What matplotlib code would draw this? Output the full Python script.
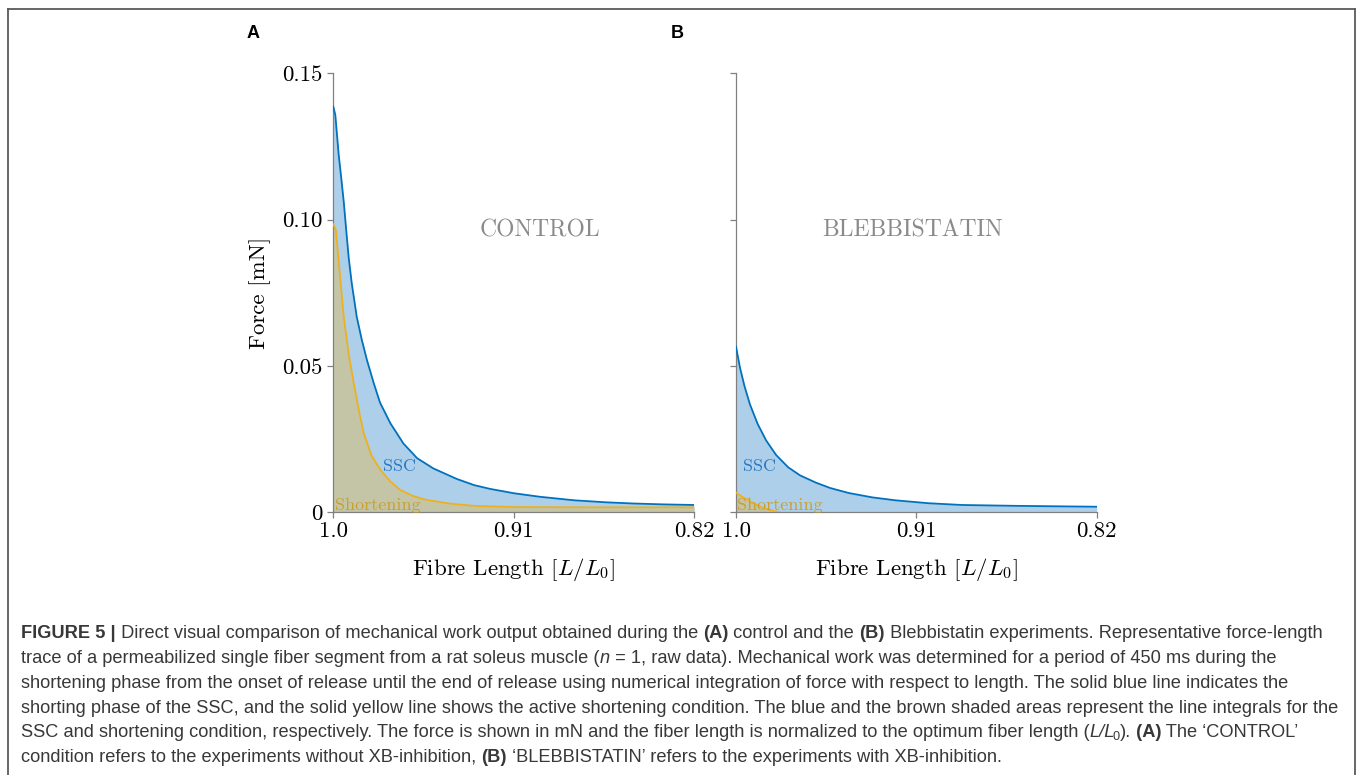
import matplotlib
matplotlib.use("Agg")
import matplotlib.pyplot as plt
from matplotlib.lines import Line2D

# ---------------- data ----------------
ctrl_ssc_L = [1.0, 0.999, 0.9973, 0.9960, 0.9948, 0.9935, 0.9923, 0.9908, 0.9883,
              0.9858, 0.9832, 0.9798, 0.9767, 0.9715, 0.9650, 0.9582, 0.9501,
              0.9384, 0.9298, 0.9218, 0.9098, 0.8969, 0.8798, 0.8636, 0.85,
              0.835, 0.82]
ctrl_ssc_F = [0.1386, 0.1358, 0.1221, 0.1140, 0.1062, 0.0960, 0.0869, 0.0783, 0.0668,
              0.0590, 0.0520, 0.0441, 0.0375, 0.0304, 0.0235, 0.0185, 0.0150,
              0.0114, 0.0093, 0.0080, 0.0065, 0.0053, 0.0041, 0.0034, 0.0030,
              0.0027, 0.0025]

ctrl_sh_L = [1.0, 0.9987, 0.9973, 0.9960, 0.9948, 0.9923, 0.9898, 0.9873, 0.9848,
             0.9810, 0.9765, 0.9715, 0.9665, 0.9600, 0.9532, 0.9420, 0.9298,
             0.91, 0.87, 0.82]
ctrl_sh_F = [0.0984, 0.0965, 0.0856, 0.0760, 0.0668, 0.0540, 0.0441, 0.0350, 0.0270,
             0.0195, 0.0145, 0.0105, 0.0076, 0.0055, 0.0042, 0.0030, 0.0022,
             0.0018, 0.0017, 0.0017]

bleb_ssc_L = [1.0, 0.9980, 0.9958, 0.9930, 0.9892, 0.9850, 0.9800, 0.9740, 0.9680,
              0.9600, 0.9530, 0.9438, 0.9320, 0.9205, 0.9040, 0.8872, 0.86, 0.82]
bleb_ssc_F = [0.0566, 0.0494, 0.0432, 0.0368, 0.0302, 0.0246, 0.0196, 0.0154, 0.0126,
              0.0101, 0.0083, 0.0066, 0.0051, 0.0041, 0.0031, 0.0025, 0.0022, 0.0019]

bleb_sh_L = [1.0, 0.9964, 0.9928, 0.9895, 0.9862, 0.9785]
bleb_sh_F = [0.0067, 0.0051, 0.0036, 0.0025, 0.0014, 0.0]

x_ticks = [1.0, 0.91, 0.82]
x_ticklabels = ["1.0", "0.91", "0.82"]
y_ticks = [0, 0.05, 0.10, 0.15]
y_ticklabels = ["0", "0.05", "0.10", "0.15"]

panel_titles = ["CONTROL", "BLEBBISTATIN"]
panel_letters = ["A", "B"]

# ---------------- style ----------------
W, H = 1357, 775
plt.rcParams["mathtext.fontset"] = "cm"
plt.rcParams["axes.unicode_minus"] = False
SERIF = "cmr10"

BLUE = "#0072BD"
ORANGE = "#EDB120"
BLUE_FILL = "#aecfe9"
OLIVE_FILL = "#c4c5a7"
SPINE = "#808080"

fig = plt.figure(figsize=(W / 100, H / 100), dpi=100)

def px_axes(x0, x1, y_top, y_bot):
    return fig.add_axes([x0 / W, 1 - y_bot / H, (x1 - x0) / W, (y_bot - y_top) / H])

axA = px_axes(333.3, 694.0, 73.3, 512.3)
axB = px_axes(736.0, 1096.7, 73.3, 512.3)

datasets = [
    (axA, ctrl_ssc_L, ctrl_ssc_F, ctrl_sh_L, ctrl_sh_F, 0.573),
    (axB, bleb_ssc_L, bleb_ssc_F, bleb_sh_L, bleb_sh_F, 0.49),
]

for i, (ax, sL, sF, hL, hF, tx) in enumerate(datasets):
    ax.fill_between(sL, sF, 0, color=BLUE_FILL, lw=0, zorder=1)
    ax.fill_between(hL, hF, 0, color=OLIVE_FILL, lw=0, zorder=2)
    ax.plot(hL, hF, color=ORANGE, lw=1.3, zorder=3, solid_joinstyle="round")
    ax.plot(sL, sF, color=BLUE, lw=1.3, zorder=4, solid_joinstyle="round")

    ax.set_xlim(1.0, 0.82)
    ax.set_ylim(0, 0.15)
    for s in ["top", "right"]:
        ax.spines[s].set_visible(False)
    for s in ["left", "bottom"]:
        ax.spines[s].set_color(SPINE)
        ax.spines[s].set_linewidth(0.9)
    ax.set_xticks(x_ticks)
    ax.set_xticklabels(x_ticklabels, fontfamily=SERIF, fontsize=16.5)
    ax.set_yticks(y_ticks)
    if i == 0:
        ax.set_yticklabels(y_ticklabels, fontfamily=SERIF, fontsize=16.5)
        ax.set_ylabel("Force [mN]", fontfamily=SERIF, fontsize=16.5, labelpad=8)
    else:
        ax.set_yticklabels([])
    ax.tick_params(axis="both", direction="out", length=4, width=0.9, color=SPINE)
    ax.tick_params(axis="x", pad=2.5)
    ax.tick_params(axis="y", pad=4)
    ax.set_xlabel(r"Fibre Length $[L/L_{\mathit{0}}]$", fontfamily=SERIF, fontsize=16.5, labelpad=11)

    ax.text(tx, 0.643, panel_titles[i], transform=ax.transAxes, ha="center", va="center",
            fontfamily=SERIF, fontsize=17, color="#8a8a8a")
    sx = 0.1386 if i == 0 else 0.0186
    ax.text(sx, 0.1055, "SSC", transform=ax.transAxes, ha="left", va="center",
            fontfamily=SERIF, fontsize=13, color="#2a78c2", zorder=5)
    ax.text(0.004, 0.017, "Shortening", transform=ax.transAxes, ha="left", va="center",
            fontfamily=SERIF, fontsize=13, color="#c9a030", zorder=5)

# panel letters
fig.text(253 / W, 1 - 33 / H, panel_letters[0], ha="center", va="center",
         fontfamily="Liberation Sans", fontweight="bold", fontsize=13)
fig.text(677 / W, 1 - 33 / H, panel_letters[1], ha="center", va="center",
         fontfamily="Liberation Sans", fontweight="bold", fontsize=13)

# frame
fc = "#5a5a5a"
fig.add_artist(Line2D([8 / W, 8 / W], [0, 1 - 9 / H], transform=fig.transFigure, color=fc, lw=1.3))
fig.add_artist(Line2D([8 / W, 1354.5 / W], [1 - 9 / H, 1 - 9 / H], transform=fig.transFigure, color=fc, lw=1.3))
fig.add_artist(Line2D([1354.5 / W, 1354.5 / W], [0, 1 - 9 / H], transform=fig.transFigure, color=fc, lw=1.3))

# ---------------- caption ----------------
renderer = fig.canvas.get_renderer()
CAP_FONT = "Liberation Sans"
CAP_COLOR = "#383838"

caption_lines = [
    [("FIGURE 5 |", "b"), (" Direct visual comparison of mechanical work output obtained during the ", "n"),
     ("(A)", "b"), (" control and the ", "n"), ("(B)", "b"),
     (" Blebbistatin experiments. Representative force-length", "n")],
    [("trace of a permeabilized single fiber segment from a rat soleus muscle (", "n"), ("n", "i"),
     (" = 1, raw data). Mechanical work was determined for a period of 450 ms during the", "n")],
    [("shortening phase from the onset of release until the end of release using numerical integration of force with respect to length. The solid blue line indicates the", "n")],
    [("shorting phase of the SSC, and the solid yellow line shows the active shortening condition. The blue and the brown shaded areas represent the line integrals for the", "n")],
    [("SSC and shortening condition, respectively. The force is shown in mN and the fiber length is normalized to the optimum fiber length (", "n"),
     ("L/L", "i"), ("0", "sub"), (").", "n"), (" (A)", "b"), (" The \u2018CONTROL\u2019", "n")],
    [("condition refers to the experiments without XB-inhibition, ", "n"), ("(B)", "b"),
     (" \u2018BLEBBISTATIN\u2019 refers to the experiments with XB-inhibition.", "n")],
]

def props(style, size):
    d = dict(fontfamily=CAP_FONT, fontsize=size, color=CAP_COLOR)
    if style == "b":
        d["fontweight"] = "bold"
    elif style == "i":
        d["fontstyle"] = "italic"
    elif style == "sub":
        d["fontsize"] = size * 0.7
    return d

def text_width(s, style, size):
    kw = props(style, size)
    t1 = fig.text(0, 0, "x" + s + "x", **kw)
    t2 = fig.text(0, 0, "xx", **kw)
    w = t1.get_window_extent(renderer).width - t2.get_window_extent(renderer).width
    t1.remove(); t2.remove()
    return w

# fit font size so the first line spans the measured width
base = 11.0
w0 = sum(text_width(s, st, base) for s, st in caption_lines[0])
cap_size = base * (1297.0 / w0)

baselines = [638, 663, 688, 713, 737, 762]
for line, yb in zip(caption_lines, baselines):
    x = 21.0
    for s, st in line:
        kw = props(st, cap_size)
        yy = yb + (3 if st == "sub" else 0)
        fig.text(x / W, 1 - yy / H, s, ha="left", va="baseline", **kw)
        x += text_width(s, st, cap_size)
        if st == "i" and s.endswith("L"):
            x -= 2.5

fig.savefig("out.png", dpi=100)
